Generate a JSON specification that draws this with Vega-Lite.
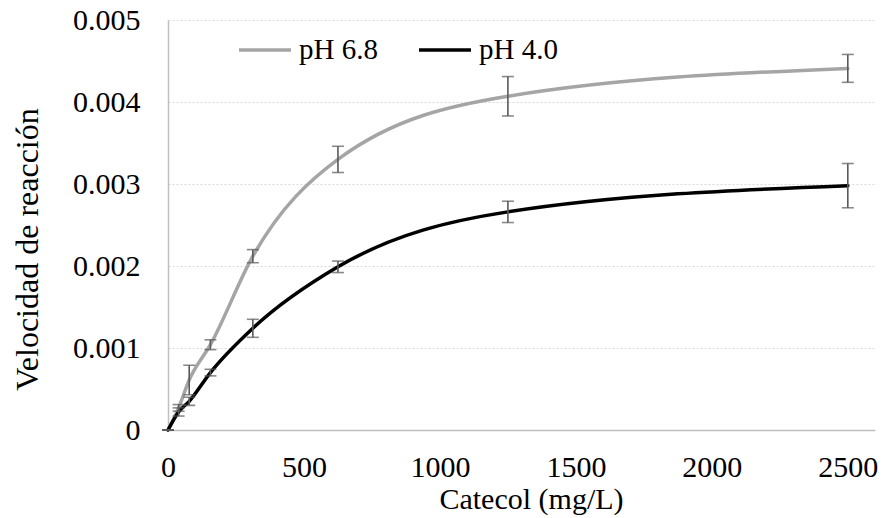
{
  "$schema": "https://vega.github.io/schema/vega-lite/v6.json",
  "width": 707,
  "height": 410,
  "autosize": {"type": "none"},
  "padding": {"left": 168, "top": 20, "right": 9, "bottom": 88},
  "background": "white",
  "data": {
    "values": [
      {"conc": 0, "v": 0, "err": 0, "serie": "pH 6.8"},
      {"conc": 39, "v": 0.00027, "err": 0.00004, "serie": "pH 6.8"},
      {"conc": 78, "v": 0.00061, "err": 0.00018, "serie": "pH 6.8"},
      {"conc": 156, "v": 0.00104, "err": 0.00006, "serie": "pH 6.8"},
      {"conc": 312, "v": 0.00212, "err": 0.00008, "serie": "pH 6.8"},
      {"conc": 625, "v": 0.0033, "err": 0.00016, "serie": "pH 6.8"},
      {"conc": 1250, "v": 0.00407, "err": 0.00024, "serie": "pH 6.8"},
      {"conc": 2500, "v": 0.00441, "err": 0.00017, "serie": "pH 6.8"},
      {"conc": 0, "v": 0, "err": 0, "serie": "pH 4.0"},
      {"conc": 39, "v": 0.00022, "err": 0.00005, "serie": "pH 4.0"},
      {"conc": 78, "v": 0.00035, "err": 0.00005, "serie": "pH 4.0"},
      {"conc": 156, "v": 0.0007, "err": 0.00004, "serie": "pH 4.0"},
      {"conc": 312, "v": 0.00124, "err": 0.00011, "serie": "pH 4.0"},
      {"conc": 625, "v": 0.00199, "err": 0.00007, "serie": "pH 4.0"},
      {"conc": 1250, "v": 0.00266, "err": 0.00013, "serie": "pH 4.0"},
      {"conc": 2500, "v": 0.00298, "err": 0.00027, "serie": "pH 4.0"}
    ]
  },
  "layer": [
    {
      "mark": {"type": "line", "interpolate": "monotone", "strokeWidth": 3.5, "strokeCap": "round"},
      "encoding": {
        "x": {
          "field": "conc", "type": "quantitative",
          "title": "Catecol (mg/L)",
          "scale": {"domain": [0, 2600], "nice": false, "zero": true},
          "axis": {
            "values": [0, 500, 1000, 1500, 2000, 2500],
            "format": "d",
            "title": "Catecol (mg/L)",
            "grid": false,
            "ticks": false,
            "tickSize": 0,
            "labelPadding": 46,
            "labelBaseline": "alphabetic",
            "labelFlush": false,
            "labelFont": "Liberation Serif",
            "labelFontSize": 30,
            "labelColor": "#000000",
            "titleFont": "Liberation Serif",
            "titleFontWeight": "normal",
            "titleColor": "#000000",
            "titleX": 363,
            "titleY": 78,
            "titleBaseline": "alphabetic",
            "titleFontSize": 30
          }
        },
        "y": {
          "field": "v", "type": "quantitative",
          "title": "Velocidad de reacción",
          "scale": {"domain": [0, 0.005], "nice": false},
          "axis": {
            "values": [0, 0.001, 0.002, 0.003, 0.004, 0.005],
            "format": ".3~f",
            "title": "Velocidad de reacción",
            "grid": true,
            "ticks": false,
            "tickSize": 0,
            "labelPadding": 28,
            "labelBaseline": "middle",
            "labelFlush": false,
            "labelFont": "Liberation Serif",
            "labelFontSize": 30,
            "labelColor": "#000000",
            "titleFont": "Liberation Serif",
            "titleFontWeight": "normal",
            "titleColor": "#000000",
            "titleX": -131,
            "titleY": 229,
            "titleAngle": -90,
            "titleAlign": "center",
            "titleBaseline": "alphabetic",
            "titleFontSize": 32
          }
        },
        "color": {
          "field": "serie", "type": "nominal",
          "scale": {"domain": ["pH 6.8", "pH 4.0"], "range": ["#A5A5A5", "#000000"]},
          "sort": ["pH 6.8", "pH 4.0"],
          "legend": {
            "title": null,
            "orient": "none",
            "legendX": 69,
            "legendY": 2,
            "direction": "horizontal",
            "symbolType": "stroke",
            "symbolSize": 2700,
            "symbolStrokeWidth": 3.5,
            "labelOffset": 6,
            "columnPadding": 34,
            "labelFont": "Liberation Serif",
            "labelFontSize": 29,
            "labelColor": "#000000"
          }
        },
        "order": {"field": "conc", "type": "quantitative"}
      }
    },
    {
      "mark": {
        "type": "errorbar",
        "color": "#595959",
        "ticks": {"size": 12, "thickness": 1.6, "color": "#595959"},
        "rule": {"strokeWidth": 1.6, "color": "#595959"}
      },
      "encoding": {
        "x": {"field": "conc", "type": "quantitative", "title": "Catecol (mg/L)"},
        "y": {"field": "v", "type": "quantitative", "title": "Velocidad de reacción"},
        "yError": {"field": "err"}
      }
    }
  ],
  "config": {
    "view": {"stroke": null},
    "font": "Liberation Serif",
    "axis": {
      "labelFont": "Liberation Serif",
      "titleFont": "Liberation Serif",
      "domainColor": "#BFBFBF",
      "domainWidth": 1.5,
      "gridColor": "#D9D9D9",
      "gridDash": [2, 2],
      "gridWidth": 1
    }
  }
}
